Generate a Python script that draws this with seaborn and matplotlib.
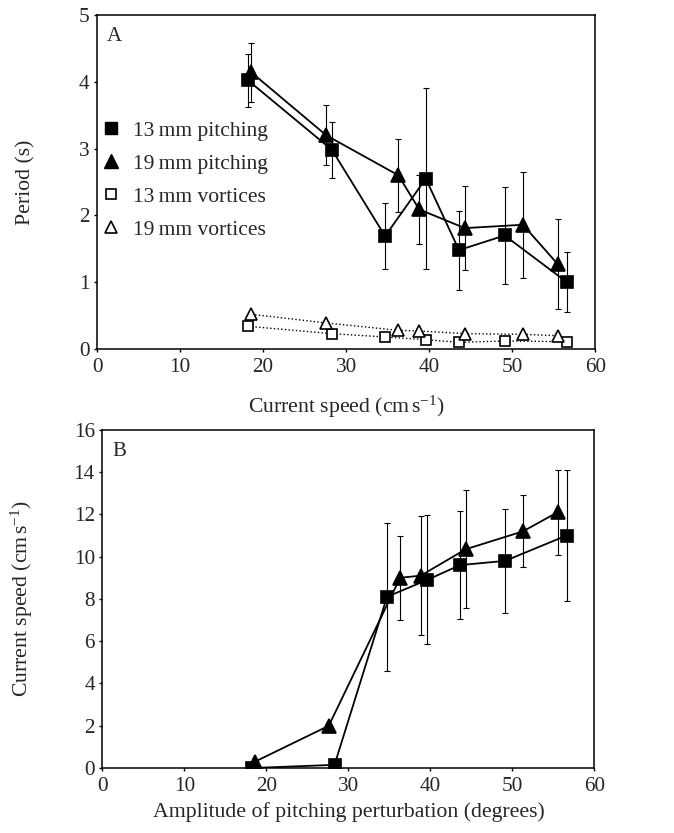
import numpy as np
import pandas as pd
import matplotlib
matplotlib.use("Agg")
import matplotlib.pyplot as plt
from matplotlib.lines import Line2D
import seaborn as sns

# ---- data ----
x_13mm = [18.2, 28.3, 34.7, 39.6, 43.6, 49.1, 56.6]
x_19mm = [18.6, 27.6, 36.3, 38.8, 44.3, 51.3, 55.5]

period_13mm = [4.02, 2.98, 1.69, 2.55, 1.48, 1.70, 1.00]
period_13mm_err = [0.40, 0.42, 0.49, 1.35, 0.59, 0.73, 0.45]
period_19mm = [4.14, 3.20, 2.60, 2.09, 1.81, 1.86, 1.27]
period_19mm_err = [0.44, 0.45, 0.55, 0.52, 0.63, 0.79, 0.67]

vortex_13mm = [0.34, 0.23, 0.18, 0.14, 0.10, 0.12, 0.11]
vortex_19mm = [0.52, 0.39, 0.28, 0.27, 0.23, 0.22, 0.20]

speed_13mm = [0.0, 0.15, 8.1, 8.9, 9.6, 9.8, 11.0]
speed_13mm_err = [0.0, 0.0, 3.5, 3.05, 2.55, 2.45, 3.12]
speed_19mm = [0.3, 2.0, 9.0, 9.1, 10.35, 11.2, 12.1]
speed_19mm_err = [0.0, 0.0, 2.0, 2.8, 2.8, 1.7, 2.0]

legend_labels = ["13\u2009mm pitching", "19\u2009mm pitching",
                 "13\u2009mm vortices", "19\u2009mm vortices"]

sns.set_theme(style="ticks")
plt.rcParams['font.family'] = ['Liberation Serif', 'DejaVu Serif']
plt.rcParams['mathtext.fontset'] = 'custom'
plt.rcParams['mathtext.rm'] = 'Liberation Serif'
plt.rcParams['mathtext.it'] = 'Liberation Serif:italic'
plt.rcParams['axes.linewidth'] = 1.1
plt.rcParams['xtick.major.size'] = 2.5
plt.rcParams['ytick.major.size'] = 2.5
plt.rcParams['xtick.major.width'] = 1.0
plt.rcParams['ytick.major.width'] = 1.0

TICK_FS = 15.3
LABEL_FS = 15.7
LEG_FS = 15.5

fig = plt.figure(figsize=(6.74, 8.33), dpi=100)
ax_a = fig.add_axes([0.144, 0.581, 0.739, 0.401])
ax_b = fig.add_axes([0.152, 0.078, 0.730, 0.406])


def draw_series(ax, x, y, err, marker, filled, ls, lw, ms):
    if err is not None:
        ax.errorbar(x, y, yerr=err, fmt='none', ecolor='black', elinewidth=0.8,
                    capsize=2.5, capthick=0.8, zorder=2)
    face = 'black' if filled else 'white'
    sns.lineplot(x=x, y=y, ax=ax, color='black', linestyle=ls, linewidth=lw,
                 marker=marker, markersize=ms, markerfacecolor=face,
                 markeredgecolor='black', markeredgewidth=1.2, legend=False,
                 zorder=3)


# ======================
# PANEL A
# ======================
draw_series(ax_a, x_13mm, period_13mm, period_13mm_err, 's', True, '-', 1.3, 9)
draw_series(ax_a, x_19mm, period_19mm, period_19mm_err, '^', True, '-', 1.3, 10)
draw_series(ax_a, x_13mm, vortex_13mm, None, 's', False, ':', 1.0, 7.5)
draw_series(ax_a, x_19mm, vortex_19mm, None, '^', False, ':', 1.0, 8.5)

ax_a.set_xlim(0, 60)
ax_a.set_ylim(0, 5)
ax_a.set_xticks(np.arange(0, 61, 10))
ax_a.set_yticks(np.arange(0, 6, 1))
ax_a.set_xlabel(r"Current speed (cm$\,$s$^{-1}$)", fontsize=LABEL_FS, labelpad=12)
ax_a.set_ylabel("Period (s)", fontsize=LABEL_FS)
ax_a.yaxis.set_label_coords(-0.1245, 0.5)
ax_a.text(0.02, 0.965, "A", transform=ax_a.transAxes, fontsize=15, va='top', ha='left')

handles = [
    Line2D([], [], linestyle='none', marker='s', markersize=9, markerfacecolor='black', markeredgecolor='black'),
    Line2D([], [], linestyle='none', marker='^', markersize=10, markerfacecolor='black', markeredgecolor='black'),
    Line2D([], [], linestyle='none', marker='s', markersize=7.5, markerfacecolor='white', markeredgecolor='black', markeredgewidth=1.2),
    Line2D([], [], linestyle='none', marker='^', markersize=8.5, markerfacecolor='white', markeredgecolor='black', markeredgewidth=1.2),
]
ax_a.legend(handles, legend_labels, loc='upper left', bbox_to_anchor=(-0.01, 0.71),
            frameon=False, fontsize=LEG_FS, handlelength=1.0, handletextpad=0.5,
            labelspacing=0.6, borderaxespad=0.0)

# ======================
# PANEL B
# ======================
draw_series(ax_b, x_13mm, speed_13mm, speed_13mm_err, 's', True, '-', 1.3, 9)
draw_series(ax_b, x_19mm, speed_19mm, speed_19mm_err, '^', True, '-', 1.3, 10)

ax_b.set_xlim(0, 60)
ax_b.set_ylim(0, 16)
ax_b.set_xticks(np.arange(0, 61, 10))
ax_b.set_yticks(np.arange(0, 17, 2))
ax_b.set_xlabel("Amplitude of pitching perturbation (degrees)", fontsize=LABEL_FS, labelpad=4)
ax_b.set_ylabel(r"Current speed (cm$\,$s$^{-1}$)", fontsize=LABEL_FS)
ax_b.yaxis.set_label_coords(-0.137, 0.5)
ax_b.text(0.02, 0.965, "B", transform=ax_b.transAxes, fontsize=15, va='top', ha='left')

for ax in (ax_a, ax_b):
    ax.tick_params(labelsize=TICK_FS, direction='out', color='black')
    ax.tick_params(axis='x', pad=4)
    ax.tick_params(axis='y', pad=3)
    for s in ax.spines.values():
        s.set_color('black')
        s.set_visible(True)
    ax.grid(False)

fig.savefig("out.png", dpi=100)
